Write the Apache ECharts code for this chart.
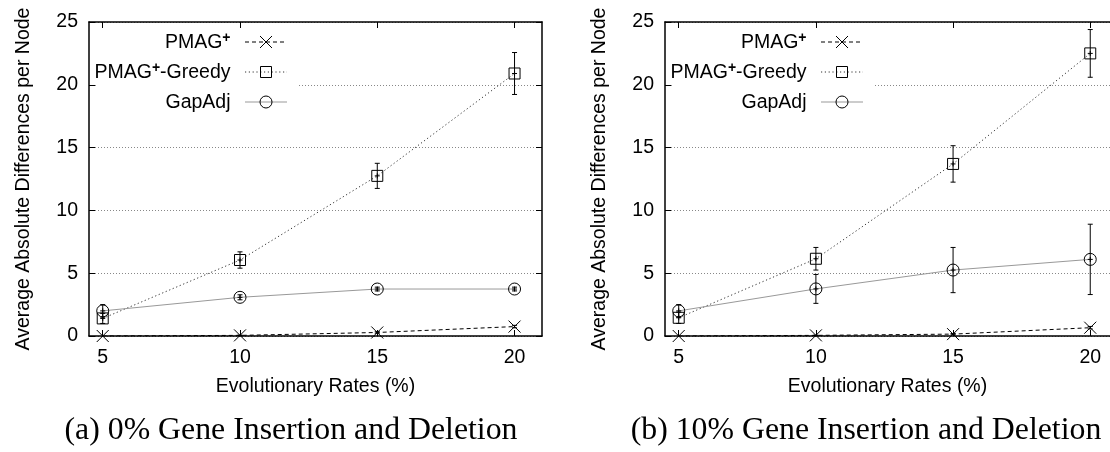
<!DOCTYPE html>
<html><head><meta charset="utf-8">
<script src="https://cdn.jsdelivr.net/npm/echarts@6/dist/echarts.min.js"></script>
<style>html,body{margin:0;padding:0;background:#fff}#c{width:1110px;height:452px}</style>
</head><body><div id="c"></div><script>
// ---- data ----
const xRates = [5, 10, 15, 20];
const xTickLabels = ['5', '10', '15', '20'];
const yTickLabels = ['0', '5', '10', '15', '20', '25'];
const seriesNames = ['PMAG+', 'PMAG+-Greedy', 'GapAdj'];
const captions = ['(a) 0% Gene Insertion and Deletion', '(b) 10% Gene Insertion and Deletion'];
const xTitle = 'Evolutionary Rates (%)';
const yTitle = 'Average Absolute Differences per Node';

// panel (a)
const aPmag = [0, 0.05, 0.28, 0.75];
const aPmagErr = [0, 0.02, 0.06, 0.1];
const aGreedy = [1.4, 6.05, 12.75, 20.9];
const aGreedyErr = [0.4, 0.65, 1.0, 1.67];
const aGap = [2.0, 3.08, 3.74, 3.74];
const aGapErr = [0.5, 0.2, 0.15, 0.15];

// panel (b)
const bPmag = [0, 0.05, 0.15, 0.66];
const bPmagErr = [0, 0.02, 0.05, 0.1];
const bGreedy = [1.45, 6.15, 13.7, 22.5];
const bGreedyErr = [0.45, 0.9, 1.45, 1.9];
const bGap = [2.0, 3.75, 5.25, 6.1];
const bGapErr = [0.5, 1.15, 1.8, 2.8];

// ---- styles ----
const FONT = 'Liberation Sans';
const FS = 19.5;
const kinds = ['cross', 'square', 'circle'];
const lineStyles = [
  {color: '#000', width: 1, type: [4, 3]},
  {color: '#333', width: 1, type: [1.2, 2.6]},
  {color: '#999', width: 1, type: 'solid'}
];
const panels = [
  {vals: [aPmag, aGreedy, aGap], errs: [aPmagErr, aGreedyErr, aGapErr]},
  {vals: [bPmag, bGreedy, bGap], errs: [bPmagErr, bGreedyErr, bGapErr]}
];
// panel (b) is cut off at the right edge of the picture
const gridPos = [
  {left: 89, top: 22, width: 453, height: 314},
  {left: 665, top: 22, width: 445, height: 314}
];
const xMax = [21, 20.72];

const ST = {stroke: '#000', lineWidth: 1, fill: 'transparent'};
function marker(kind, cx, cy) {
  if (kind === 'cross') {
    return [
      {type: 'line', shape: {x1: cx - 6, y1: cy - 6, x2: cx + 6, y2: cy + 6}, style: ST},
      {type: 'line', shape: {x1: cx - 6, y1: cy + 6, x2: cx + 6, y2: cy - 6}, style: ST}
    ];
  }
  if (kind === 'square') {
    return [{type: 'rect', shape: {x: cx - 5.5, y: cy - 5.5, width: 11, height: 11}, style: ST}];
  }
  return [{type: 'circle', shape: {cx: cx, cy: cy, r: 6}, style: ST}];
}

function makeRender(kind) {
  return function (params, api) {
    const x = api.value(0), y = api.value(1), e = api.value(2);
    const c = api.coord([x, y]);
    const ch = [];
    if (e > 0) {
      const t = api.coord([x, y + e]), b = api.coord([x, y - e]);
      ch.push({type: 'line', shape: {x1: c[0], y1: t[1], x2: c[0], y2: b[1]}, style: ST});
      ch.push({type: 'line', shape: {x1: c[0] - 2.5, y1: t[1], x2: c[0] + 2.5, y2: t[1]}, style: ST});
      ch.push({type: 'line', shape: {x1: c[0] - 2.5, y1: b[1], x2: c[0] + 2.5, y2: b[1]}, style: ST});
    }
    if (kind !== 'cross') {
      ch.push({type: 'line', shape: {x1: c[0] - 2.5, y1: c[1], x2: c[0] + 2.5, y2: c[1]}, style: ST});
      ch.push({type: 'line', shape: {x1: c[0], y1: c[1] - 2.5, x2: c[0], y2: c[1] + 2.5}, style: ST});
    }
    return {type: 'group', children: ch.concat(marker(kind, c[0], c[1]))};
  };
}

const xAxis = [], yAxis = [], series = [], graphic = [];
gridPos.forEach((g, i) => {
  const axLine = {show: true, onZero: false, lineStyle: {color: '#000', width: 1.5}};
  const tick = {show: true, inside: true, length: 6, lineStyle: {color: '#000', width: 1}};
  xAxis.push({
    type: 'value', gridIndex: i, min: 4.5, max: xMax[i], position: 'bottom',
    axisLine: axLine, axisTick: Object.assign({customValues: xRates}, tick),
    axisLabel: {customValues: xRates, formatter: v => xTickLabels[xRates.indexOf(v)],
      margin: 12, fontSize: FS, color: '#000', fontFamily: FONT},
    splitLine: {show: false},
    name: xTitle, nameLocation: 'middle', nameGap: 41,
    nameTextStyle: {fontSize: FS, color: '#000', fontFamily: FONT}
  });
  xAxis.push({
    type: 'value', gridIndex: i, min: 4.5, max: xMax[i], position: 'top',
    axisLine: axLine, axisTick: Object.assign({customValues: xRates}, tick),
    axisLabel: {show: false, customValues: xRates}, splitLine: {show: false}
  });
  yAxis.push({
    type: 'value', gridIndex: i, min: 0, max: 25, interval: 5, position: 'left',
    axisLine: axLine, axisTick: tick,
    axisLabel: {formatter: v => yTickLabels[Math.round(v / 5)], margin: 11, fontSize: FS,
      color: '#000', fontFamily: FONT},
    splitLine: {show: true, lineStyle: {color: '#888', width: 1, type: [1, 2]}},
    name: yTitle, nameLocation: 'middle', nameGap: 55,
    nameTextStyle: {fontSize: FS, color: '#000', fontFamily: FONT}
  });
  yAxis.push({
    type: 'value', gridIndex: i, min: 0, max: 25, interval: 5, position: 'right',
    show: i === 0,
    axisLine: axLine, axisTick: tick, axisLabel: {show: false}, splitLine: {show: false}
  });
  const P = panels[i];
  for (let s = 0; s < 3; s++) {
    series.push({
      type: 'line', name: seriesNames[s], xAxisIndex: 2 * i, yAxisIndex: 2 * i,
      data: xRates.map((x, k) => [x, P.vals[s][k]]), symbol: 'none',
      lineStyle: lineStyles[s], z: 2, silent: true, animation: false
    });
  }
  for (let s = 0; s < 3; s++) {
    series.push({
      type: 'custom', xAxisIndex: 2 * i, yAxisIndex: 2 * i,
      data: xRates.map((x, k) => [x, P.vals[s][k], P.errs[s][k]]),
      renderItem: makeRender(kinds[s]), z: 3, silent: true, animation: false
    });
  }
  // key with white backing box
  graphic.push({type: 'rect', z: 1, silent: true,
    shape: {x: g.left + 7, y: g.top + 8, width: 202, height: 84}, style: {fill: '#fff'}});
  [42, 72, 102].forEach((yy, s) => {
    const txt = seriesNames[s].replace('+', '{s|+}').replace(/^([^{]*)/, '{a|$1}').replace(/\}([^{}|]+)$/, '}{a|$1}');
    graphic.push({type: 'text', z: 4, silent: true,
      style: {x: g.left + 141.5, y: yy, text: txt, align: 'right', verticalAlign: 'middle',
        rich: {a: {fontSize: FS, fontFamily: FONT, fill: '#000', lineHeight: 22, verticalAlign: 'bottom'},
               s: {fontSize: 14, fontFamily: FONT, fill: '#000', fontWeight: 'bold', lineHeight: 22, verticalAlign: 'top'}}}});
    const ls = lineStyles[s];
    graphic.push({type: 'line', z: 4, silent: true,
      shape: {x1: g.left + 156, y1: yy, x2: g.left + 198, y2: yy},
      style: {stroke: ls.color, lineWidth: 1, lineDash: ls.type === 'solid' ? null : ls.type}});
    const m = marker(kinds[s], g.left + 177, yy);
    m.forEach(el => { el.z = 5; el.silent = true; graphic.push(el); });
  });
});
graphic.push({type: 'text', z: 4, silent: true,
  style: {x: 291, y: 431, text: captions[0], align: 'center', verticalAlign: 'middle',
    fontSize: 31.8, fontFamily: 'Liberation Serif', fill: '#000'}});
graphic.push({type: 'text', z: 4, silent: true,
  style: {x: 866, y: 431, text: captions[1], align: 'center', verticalAlign: 'middle',
    fontSize: 31.8, fontFamily: 'Liberation Serif', fill: '#000'}});

const chart = echarts.init(document.getElementById('c'), null, {renderer: 'canvas'});
chart.setOption({
  animation: false,
  backgroundColor: '#fff',
  textStyle: {fontFamily: FONT},
  grid: gridPos, xAxis: xAxis, yAxis: yAxis, series: series, graphic: graphic
});
</script></body></html>
